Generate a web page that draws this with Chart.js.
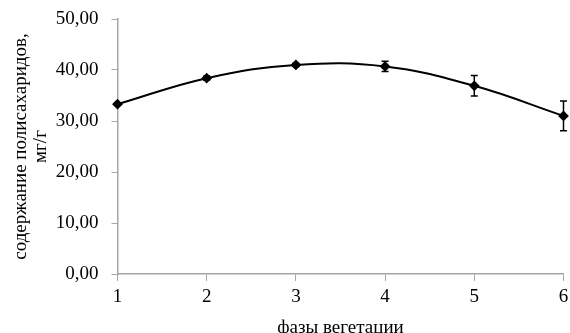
<!DOCTYPE html>
<html>
<head>
<meta charset="utf-8">
<script src="https://cdn.jsdelivr.net/npm/chart.js@4.4.1/dist/chart.umd.min.js"></script>
<style>
  html, body { margin: 0; padding: 0; background: #fff; overflow: hidden; }
  canvas { display: block; }
</style>
</head>
<body>
<canvas id="myChart" width="570" height="345"></canvas>
<script>
var phases = ['1', '2', '3', '4', '5', '6'];
var polysaccharides = [33.3, 38.4, 41.0, 40.7, 36.9, 31.0];
var errors = [0.2, 0.4, 0.3, 1.0, 2.0, 2.9];
var yTicks = [0, 10, 20, 30, 40, 50];

var fontName = "'Liberation Serif', 'Times New Roman', serif";
var axisColor = '#a6a6a6';

// draws the vertical error bars with caps through the y scale
var errorBars = {
    id: 'errorBars',
    afterDatasetsDraw: function(chart) {
        var ctx = chart.ctx;
        var yScale = chart.scales.y;
        var meta = chart.getDatasetMeta(0);
        ctx.save();
        ctx.strokeStyle = '#000';
        ctx.lineWidth = 1.5;
        for (var i = 0; i < meta.data.length; i++) {
            var x = meta.data[i].x;
            var top = yScale.getPixelForValue(polysaccharides[i] + errors[i]);
            var bot = yScale.getPixelForValue(polysaccharides[i] - errors[i]);
            ctx.beginPath();
            ctx.moveTo(x, top);
            ctx.lineTo(x, bot);
            ctx.moveTo(x - 3.5, top);
            ctx.lineTo(x + 3.5, top);
            ctx.moveTo(x - 3.5, bot);
            ctx.lineTo(x + 3.5, bot);
            ctx.stroke();
        }
        ctx.restore();
    }
};

var myChart = new Chart('myChart', {
    type: 'line',
    data: {
        labels: phases,
        datasets: [{
            data: polysaccharides,
            borderColor: '#000',
            backgroundColor: '#000',
            borderWidth: 2,
            tension: 0.4,
            pointStyle: 'rectRot',
            pointRadius: 4,
            pointBackgroundColor: '#000',
            pointBorderColor: '#000'
        }]
    },
    options: {
        responsive: false,
        animation: false,
        layout: { padding: { top: 19, right: 6.5, left: 0, bottom: 0 } },
        plugins: {
            legend: { display: false },
            tooltip: { enabled: false }
        },
        scales: {
            x: {
                offset: false,
                grid: { drawOnChartArea: false, drawTicks: true, tickLength: 7, color: axisColor },
                border: { color: axisColor, width: 1.5 },
                ticks: { color: '#000', font: { family: fontName, size: 19 }, padding: 5, maxRotation: 0 },
                title: {
                    display: true,
                    text: 'фазы вегетации',
                    color: '#000',
                    font: { family: fontName, size: 19 },
                    padding: { top: 0, bottom: 6 }
                },
                afterFit: function(scale) {
                    scale.height = 71;
                    scale.paddingLeft = 0;
                    scale.paddingRight = 0;
                }
            },
            y: {
                min: 0,
                max: 50,
                afterBuildTicks: function(scale) {
                    scale.ticks = yTicks.map(function(v) { return { value: v }; });
                },
                grid: { drawOnChartArea: false, drawTicks: true, tickLength: 6, color: axisColor },
                border: { color: axisColor, width: 1.5 },
                ticks: {
                    color: '#000',
                    font: { family: fontName, size: 19 },
                    padding: 13,
                    callback: function(v) { return v.toFixed(2).replace('.', ','); }
                },
                title: {
                    display: true,
                    text: ['содержание полисахаридов,', 'мг/г'],
                    color: '#000',
                    font: { family: fontName, size: 19, lineHeight: 1.05 },
                    padding: { top: 11, bottom: 0 }
                },
                afterFit: function(scale) {
                    scale.width = 117.5;
                    scale.paddingTop = 0;
                    scale.paddingBottom = 0;
                }
            }
        }
    },
    plugins: [errorBars]
});
</script>
</body>
</html>
